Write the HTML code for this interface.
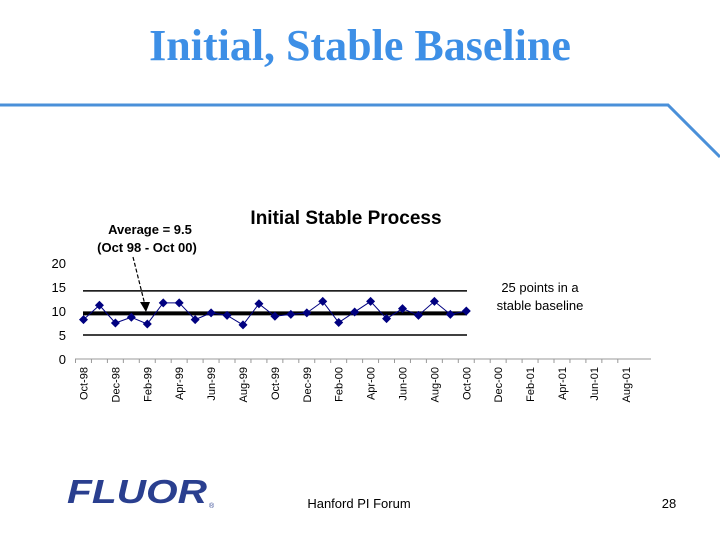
<!DOCTYPE html>
<html><head><meta charset="utf-8"><style>
body{margin:0;width:720px;height:540px;background:#fff;overflow:hidden;font-family:"Liberation Sans",sans-serif;position:relative}
.t{position:absolute;left:0;width:720px;top:20px;text-align:center;font-family:"Liberation Serif",serif;font-size:44px;font-weight:bold;color:#3d8fe6}
</style></head><body>
<div class="t">Initial, Stable Baseline</div>
<svg width="720" height="540" style="position:absolute;left:0;top:0">
<polyline points="0,105 668,105 720,157" fill="none" stroke="#4a90d9" stroke-width="3"/>
<text x="346" y="224" text-anchor="middle" font-size="19" font-weight="bold" font-family="Liberation Sans">Initial Stable Process</text>
<text x="150" y="234" text-anchor="middle" font-size="13" font-weight="bold">Average = 9.5</text>
<text x="147" y="252" text-anchor="middle" font-size="13" font-weight="bold">(Oct 98 - Oct 00)</text>
<line x1="133" y1="257" x2="145" y2="305" stroke="#000" stroke-width="1.2" stroke-dasharray="4,2"/>
<polygon points="140,302 150,302 146,312" fill="#000"/>
<text x="540" y="292" text-anchor="middle" font-size="13">25 points in a</text>
<text x="540" y="310" text-anchor="middle" font-size="13">stable baseline</text>
<g id="chart"></g>
<text x="67" y="503" font-size="33" font-weight="bold" font-style="italic" fill="#2a3f8f" font-family="Liberation Sans" textLength="140" lengthAdjust="spacingAndGlyphs">FLUOR</text>
<text x="209" y="508" font-size="7" fill="#2a3f8f">®</text>
<text x="359" y="508" text-anchor="middle" font-size="13">Hanford PI Forum</text>
<text x="669" y="508" text-anchor="middle" font-size="13">28</text>
</svg>
<script>
const categories=["Oct-98","Nov-98","Dec-98","Jan-99","Feb-99","Mar-99","Apr-99","May-99","Jun-99","Jul-99","Aug-99","Sep-99","Oct-99","Nov-99","Dec-99","Jan-00","Feb-00","Mar-00","Apr-00","May-00","Jun-00","Jul-00","Aug-00","Sep-00","Oct-00","Nov-00","Dec-00","Jan-01","Feb-01","Mar-01","Apr-01","May-01","Jun-01","Jul-01","Aug-01"];
const values=[8.2,11.2,7.5,8.7,7.3,11.7,11.7,8.2,9.6,9.1,7.1,11.5,8.9,9.3,9.6,12,7.6,9.8,12,8.4,10.5,9.1,12,9.3,10];
const averageValue=9.5;
const ucl=14.2;
const lcl=5.0;
const yTicks=[0,5,10,15,20];
const ns="http://www.w3.org/2000/svg";
const g=document.getElementById('chart');
const x=i=>83.5+i*15.95;
const y=v=>359-v*4.8;
function mk(t,a){const e=document.createElementNS(ns,t);for(const k in a)e.setAttribute(k,a[k]);g.appendChild(e);return e;}
let e;
e=mk('line',{x1:75,y1:y(0),x2:651,y2:y(0),stroke:'#999'});


yTicks.forEach(v=>{
 e=mk('text',{x:66,y:y(v)+5,'text-anchor':'end','font-size':13});e.textContent=v;
 
 
});
categories.forEach((c,i)=>{
 e=mk('line',{x1:x(i)-8,y1:y(0),x2:x(i)-8,y2:y(0)+4,stroke:'#999'});
 
 
 if(i%2==0){
  e=mk('text',{x:0,y:0,'font-size':11,'text-anchor':'end',transform:`translate(${x(i)+4},${y(0)+8}) rotate(-90)`});e.textContent=c;
  
  
 }
});
[[ucl,1.5,'upper-control-limit'],[lcl,1.5,'lower-control-limit'],[averageValue,4,'average-line']].forEach(([v,w,n])=>{
 e=mk('line',{x1:83,y1:y(v),x2:467,y2:y(v),stroke:'#000','stroke-width':w});
 
 
});
e=mk('polyline',{points:values.map((v,i)=>x(i)+','+y(v)).join(' '),fill:'none',stroke:'#000080','stroke-width':1});


values.forEach((v,i)=>{
 e=mk('polygon',{points:`${x(i)},${y(v)-4.5} ${x(i)+4.5},${y(v)} ${x(i)},${y(v)+4.5} ${x(i)-4.5},${y(v)}`,fill:'#000080'});
 
 
});
</script>
</body></html>
